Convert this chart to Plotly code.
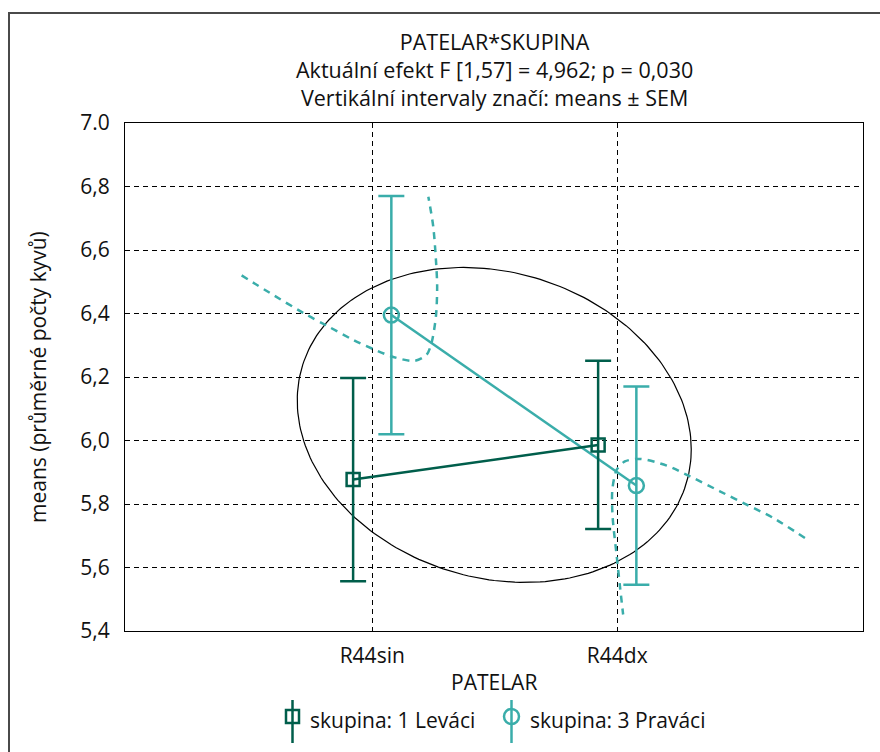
import numpy as np
import plotly.graph_objects as go

# ---------------- data ----------------
categories = ["R44sin", "R44dx"]
cat_pos = [0, 1]
levaci_mean = [5.877, 5.986]
levaci_sem = [0.320, 0.265]
pravaci_mean = [6.395, 5.858]
pravaci_sem = [0.375, 0.312]

y_tick_vals = [7.0, 6.8, 6.6, 6.4, 6.2, 6.0, 5.8, 5.6, 5.4]
y_tick_text = ["7.0", "6,8", "6,6", "6,4", "6,2", "6,0", "5,8", "5,6", "5,4"]

# dashed curves (x in category units, y in means)
curve1_x = [-0.533, -0.418, -0.268, -0.186, -0.078, 0.004, 0.086, 0.174, 0.222,
            0.242, 0.260, 0.265, 0.260, 0.249, 0.229]
curve1_y = [6.520, 6.465, 6.396, 6.362, 6.317, 6.288, 6.263, 6.251, 6.270,
            6.307, 6.391, 6.485, 6.569, 6.674, 6.768]
curve2_x = [1.766, 1.637, 1.528, 1.419, 1.297, 1.202, 1.093, 1.031, 0.998,
            0.980, 0.981, 0.998, 1.011, 1.024]
curve2_y = [5.693, 5.756, 5.798, 5.840, 5.887, 5.921, 5.942, 5.934, 5.908,
            5.845, 5.761, 5.635, 5.541, 5.452]

# ellipse parameters (centre, half extents, correlation)
ell_cx, ell_cy = 0.498, 6.049
ell_sx, ell_sy = 0.804, 0.496
ell_rho = -0.155

# ---------------- style / layout ----------------
DARK = "#005E4B"
LIGHT = "#3AADAA"
FONT = "Open Sans"
W_FIG, H_FIG = 880, 752
L, R, T, B = 125, 17, 123, 121
PW = W_FIG - L - R
PH = H_FIG - T - B
off = 0.078


def paper_x(px):
    return (px - L) / PW


def paper_y(py):
    return (T + PH - py) / PH


fig = go.Figure()

t = np.linspace(0, 2 * np.pi, 241)
ex = ell_cx + ell_sx * np.cos(t)
ey = ell_cy + ell_sy * (ell_rho * np.cos(t) + np.sqrt(1 - ell_rho ** 2) * np.sin(t))
fig.add_trace(go.Scatter(x=ex, y=ey, mode="lines",
                         line=dict(color="black", width=1.2), hoverinfo="skip"))

for cx, cy in [(curve1_x, curve1_y), (curve2_x, curve2_y)]:
    fig.add_trace(go.Scatter(x=cx, y=cy, mode="lines",
                             line=dict(color=LIGHT, width=2.5, dash="7px,6px",
                                       shape="spline", smoothing=0.8),
                             hoverinfo="skip"))

fig.add_trace(go.Scatter(
    x=[p + off for p in cat_pos], y=pravaci_mean, mode="lines+markers",
    name="skupina: 3 Praváci",
    line=dict(color=LIGHT, width=2.5),
    marker=dict(symbol="circle-open", size=15, color=LIGHT, line=dict(width=2.5)),
    error_y=dict(type="data", array=pravaci_sem, visible=True, color=LIGHT,
                 thickness=2.5, width=13)))

fig.add_trace(go.Scatter(
    x=[p - off for p in cat_pos], y=levaci_mean, mode="lines+markers",
    name="skupina: 1 Leváci",
    line=dict(color=DARK, width=2.5),
    marker=dict(symbol="square-open", size=13, color=DARK, line=dict(width=2.5)),
    error_y=dict(type="data", array=levaci_sem, visible=True, color=DARK,
                 thickness=2.5, width=13)))

shapes = []
# outer border
shapes.append(dict(type="rect", xref="paper", yref="paper",
                   x0=paper_x(9), x1=paper_x(895), y0=paper_y(780), y1=paper_y(13),
                   line=dict(color="#4a4a4a", width=2), layer="below"))
# legend glyphs
shapes.append(dict(type="line", xref="paper", yref="paper",
                   x0=paper_x(292.5), x1=paper_x(292.5), y0=paper_y(700), y1=paper_y(743),
                   line=dict(color=DARK, width=2.5)))
shapes.append(dict(type="rect", xref="paper", yref="paper",
                   x0=paper_x(286), x1=paper_x(299), y0=paper_y(710), y1=paper_y(723),
                   line=dict(color=DARK, width=2.5)))
shapes.append(dict(type="line", xref="paper", yref="paper",
                   x0=paper_x(511.5), x1=paper_x(511.5), y0=paper_y(700), y1=paper_y(743),
                   line=dict(color=LIGHT, width=2.5)))
shapes.append(dict(type="circle", xref="paper", yref="paper",
                   x0=paper_x(504), x1=paper_x(519), y0=paper_y(709), y1=paper_y(724),
                   line=dict(color=LIGHT, width=2.5)))

title_lines = ["PATELAR*SKUPINA",
               "Aktuální efekt F [1,57] = 4,962; p = 0,030",
               "Vertikální intervaly značí: means ± SEM"]

f_title = dict(family=FONT, size=21.5, color="#111111")
f21 = dict(family=FONT, size=21, color="#111111")
annotations = [
    dict(text="<br>".join(title_lines), x=paper_x(494), y=paper_y(70), font=f_title),
    dict(text="PATELAR", x=paper_x(494), y=paper_y(682), font=f21),
    dict(text="means (průměrné počty kyvů)", x=paper_x(38), y=paper_y(377), textangle=-90, font=f21),
    dict(text="skupina: 1 Leváci", x=paper_x(308), y=paper_y(720), xanchor="left", font=f21),
    dict(text="skupina: 3 Praváci", x=paper_x(528), y=paper_y(720), xanchor="left", font=f21),
]
for a in annotations:
    a.update(xref="paper", yref="paper", showarrow=False)
    a.setdefault("xanchor", "center")
    a.setdefault("yanchor", "middle")

fig.update_layout(
    width=W_FIG, height=H_FIG,
    margin=dict(l=L, r=R, t=T, b=B),
    paper_bgcolor="white", plot_bgcolor="white",
    showlegend=False,
    font=dict(family=FONT, size=21, color="#111111"),
    shapes=shapes, annotations=annotations,
)
fig.update_xaxes(range=[-1.009, 2.003], tickvals=cat_pos, ticktext=categories,
                 showgrid=True, gridcolor="black", griddash="5px,4px", gridwidth=1,
                 showline=True, linecolor="black", linewidth=1, mirror=True,
                 ticks="", zeroline=False, ticklabelstandoff=6,
                 tickfont=f21)
fig.update_yaxes(range=[5.4, 7.0], tickvals=y_tick_vals, ticktext=y_tick_text,
                 showgrid=True, gridcolor="black", griddash="5px,4px", gridwidth=1,
                 showline=True, linecolor="black", linewidth=1, mirror=True,
                 ticks="", zeroline=False, ticklabelstandoff=10,
                 tickfont=f21)

fig.write_html("out.html", config={"displayModeBar": False},
               post_script="document.body.style.margin='0px';")
